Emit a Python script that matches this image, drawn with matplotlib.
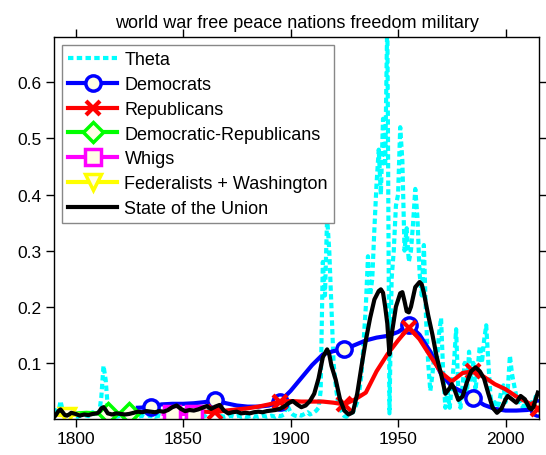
import numpy as np
import matplotlib
matplotlib.use("Agg")
import matplotlib.pyplot as plt

plt.rcParams['font.family'] = ['Liberation Sans', 'DejaVu Sans']

# theta, one value per year 1790..2015
theta_years = np.arange(1790, 2016)
theta = [
    0.010, 0.020, 0.010, 0.032, 0.015, 0.010, 0.005, 0.012, 0.020, 0.008,   # 1790s
    0.005, 0.004, 0.006, 0.005, 0.008, 0.006, 0.005, 0.010, 0.012, 0.008,   # 1800s
    0.006, 0.010, 0.040, 0.095, 0.070, 0.020, 0.008, 0.005, 0.006, 0.004,   # 1810s
    0.005, 0.006, 0.004, 0.007, 0.005, 0.006, 0.004, 0.005, 0.006, 0.004,   # 1820s
    0.005, 0.006, 0.004, 0.005, 0.007, 0.005, 0.006, 0.004, 0.005, 0.006,   # 1830s
    0.005, 0.006, 0.007, 0.005, 0.006, 0.008, 0.012, 0.015, 0.010, 0.006,   # 1840s
    0.005, 0.004, 0.006, 0.005, 0.004, 0.006, 0.005, 0.004, 0.005, 0.006,   # 1850s
    0.005, 0.010, 0.015, 0.018, 0.020, 0.012, 0.008, 0.006, 0.005, 0.004,   # 1860s
    0.005, 0.004, 0.006, 0.005, 0.004, 0.005, 0.006, 0.004, 0.005, 0.004,   # 1870s
    0.004, 0.005, 0.006, 0.004, 0.005, 0.004, 0.005, 0.006, 0.005, 0.004,   # 1880s
    0.005, 0.006, 0.005, 0.004, 0.006, 0.005, 0.006, 0.008, 0.025, 0.020,   # 1890s
    0.012, 0.008, 0.006, 0.005, 0.007, 0.006, 0.008, 0.010, 0.012, 0.008,   # 1900s
    0.010, 0.012, 0.015, 0.020, 0.050, 0.280, 0.220, 0.360, 0.300, 0.200,   # 1910s
    0.100, 0.060, 0.030, 0.020, 0.010, 0.005, 0.004, 0.008, 0.010, 0.012,   # 1920s
    0.020, 0.030, 0.050, 0.080, 0.140, 0.200, 0.290, 0.220, 0.250, 0.340,   # 1930s
    0.420, 0.480, 0.400, 0.535, 0.450, 0.720, 0.010, 0.250, 0.300, 0.380,   # 1940s
    0.400, 0.520, 0.460, 0.300, 0.340, 0.280, 0.300, 0.350, 0.410, 0.360,   # 1950s
    0.260, 0.220, 0.310, 0.180, 0.100, 0.050, 0.080, 0.120, 0.100, 0.150,   # 1960s
    0.180, 0.080, 0.020, 0.050, 0.020, 0.060, 0.100, 0.160, 0.050, 0.020,   # 1970s
    0.060, 0.100, 0.040, 0.120, 0.070, 0.100, 0.050, 0.090, 0.130, 0.100,   # 1980s
    0.140, 0.167, 0.100, 0.040, 0.020, 0.030, 0.020, 0.030, 0.050, 0.060,   # 1990s
    0.030, 0.050, 0.113, 0.080, 0.060, 0.040, 0.030, 0.030, 0.020, 0.030,   # 2000s
    0.020, 0.020, 0.030, 0.020, 0.040, 0.040,                               # 2010s
]

dem_years = [1829, 1835, 1840, 1845, 1850, 1855, 1860, 1865, 1870, 1875, 1880, 1885,
             1890, 1895, 1900, 1905, 1910, 1915, 1920, 1925, 1930, 1935, 1940, 1945,
             1950, 1955, 1960, 1965, 1970, 1975, 1980, 1985, 1990, 1995, 2000, 2005,
             2010, 2015]
dem = [0.020, 0.021, 0.026, 0.027, 0.027, 0.028, 0.030, 0.034, 0.028, 0.024, 0.022, 0.022,
       0.024, 0.031, 0.050, 0.073, 0.096, 0.115, 0.121, 0.124, 0.132, 0.140, 0.145, 0.148,
       0.155, 0.168, 0.150, 0.120, 0.080, 0.058, 0.048, 0.037, 0.025, 0.018, 0.015, 0.015,
       0.016, 0.019]

rep_years = [1860, 1865, 1870, 1875, 1880, 1885, 1890, 1895, 1900, 1905, 1910, 1915,
             1920, 1925, 1930, 1935, 1940, 1945, 1950, 1955, 1960, 1965, 1970, 1975,
             1980, 1985, 1990, 1995, 2000, 2005, 2010, 2015]
rep = [0.013, 0.012, 0.015, 0.017, 0.019, 0.022, 0.026, 0.031, 0.032, 0.031, 0.031, 0.031,
       0.029, 0.026, 0.035, 0.047, 0.085, 0.115, 0.140, 0.163, 0.142, 0.112, 0.083, 0.067,
       0.082, 0.085, 0.075, 0.062, 0.053, 0.040, 0.030, 0.018]

dr_years = [1801, 1805, 1810, 1815, 1820, 1825, 1829]
dr = [0.010, 0.011, 0.010, 0.011, 0.010, 0.011, 0.012]

whig_years = [1841, 1845, 1850, 1855, 1858]
whig = [0.009, 0.008, 0.009, 0.008, 0.009]

fed_years = [1790, 1796, 1801]
fed = [0.008, 0.006, 0.008]

sotu_years = [1790, 1791, 1792, 1793, 1794, 1795, 1796, 1797, 1798, 1799, 1800, 1802, 1804,
              1806, 1808, 1810, 1811, 1812, 1813, 1814, 1815, 1817, 1819, 1821, 1823, 1825,
              1827, 1829, 1831, 1833, 1835, 1837, 1839, 1841, 1843, 1845, 1847, 1849, 1851,
              1853, 1855, 1857, 1859, 1861, 1863, 1865, 1867, 1869, 1871, 1873, 1875, 1877,
              1879, 1881, 1883, 1885, 1887, 1889, 1891, 1893, 1895, 1897, 1899, 1901, 1903,
              1905, 1907, 1909, 1911, 1913, 1915, 1917, 1918, 1919, 1921, 1923, 1925, 1927,
              1929, 1931, 1933, 1935, 1937, 1939, 1941, 1942, 1943, 1944, 1945, 1946, 1947,
              1949, 1951, 1952, 1953, 1954, 1955, 1956, 1958, 1960, 1961, 1962, 1964, 1966,
              1968, 1970, 1972, 1974, 1975, 1976, 1978, 1980, 1982, 1984, 1986, 1988, 1990,
              1992, 1994, 1996, 1998, 2000, 2001, 2003, 2005, 2007, 2009, 2011, 2012, 2013,
              2014, 2015]
sotu = [0.003, 0.008, 0.014, 0.017, 0.012, 0.007, 0.006, 0.008, 0.011, 0.010, 0.009, 0.006, 0.008,
        0.007, 0.009, 0.010, 0.013, 0.019, 0.021, 0.016, 0.010, 0.008, 0.010, 0.009, 0.008, 0.009,
        0.011, 0.013, 0.012, 0.014, 0.013, 0.012, 0.014, 0.013, 0.016, 0.021, 0.024, 0.018, 0.014,
        0.016, 0.015, 0.017, 0.020, 0.023, 0.018, 0.022, 0.025, 0.015, 0.010, 0.012, 0.013, 0.010,
        0.011, 0.010, 0.012, 0.013, 0.012, 0.014, 0.015, 0.016, 0.018, 0.022, 0.028, 0.032, 0.026,
        0.021, 0.024, 0.032, 0.045, 0.072, 0.110, 0.124, 0.115, 0.095, 0.070, 0.035, 0.015, 0.008,
        0.012, 0.045, 0.094, 0.140, 0.180, 0.213, 0.228, 0.231, 0.225, 0.200, 0.170, 0.115, 0.150,
        0.200, 0.224, 0.226, 0.210, 0.192, 0.190, 0.200, 0.235, 0.244, 0.240, 0.225, 0.185, 0.150,
        0.110, 0.080, 0.045, 0.055, 0.062, 0.055, 0.034, 0.040, 0.065, 0.085, 0.092, 0.085, 0.072,
        0.045, 0.020, 0.011, 0.018, 0.035, 0.041, 0.035, 0.029, 0.041, 0.035, 0.020, 0.017, 0.022,
        0.035, 0.047]

face = '#fffde6'

fig = plt.figure(figsize=(5.46, 4.56), dpi=100)
ax = fig.add_axes([0.099, 0.079, 0.888, 0.838])

ax.plot(theta_years, theta, color='cyan', lw=3, ls='--', dashes=(1.3, 0.8), label='Theta', zorder=1)
ax.plot(dem_years, dem, color='blue', lw=3, marker='o', ms=11, mew=2.5, mfc=face,
        markevery=slice(1, None, 6), label='Democrats', zorder=2)
ax.plot(rep_years, rep, color='red', lw=3, marker='x', ms=10, mew=3,
        markevery=slice(1, None, 6), label='Republicans', zorder=2)
ax.plot(dr_years, dr, color='lime', lw=3, marker='D', ms=10, mew=2.5, mfc=face,
        markevery=[3, 5], label='Democratic-Republicans', zorder=2)
ax.plot(whig_years, whig, color='magenta', lw=3, marker='s', ms=11, mew=2.5, mfc=face,
        markevery=[1, 3], label='Whigs', zorder=2)
ax.plot(fed_years, fed, color='yellow', lw=3, marker='v', ms=11, mew=2.5, mfc=face,
        markevery=[1], label='Federalists + Washington', zorder=2)
ax.plot(sotu_years, sotu, color='black', lw=3, label='State of the Union', zorder=3)

ax.set_xlim(1790, 2015.5)
ax.set_ylim(0, 0.681)
ax.set_xticks([1800, 1850, 1900, 1950, 2000])
ax.set_yticks([0.1, 0.2, 0.3, 0.4, 0.5, 0.6])
ax.set_yticklabels(['0.1', '0.2', '0.3', '0.4', '0.5', '0.6'])
ax.tick_params(direction='out', length=6, width=1, labelsize=12.5,
               top=True, right=True, pad=3)
for s in ax.spines.values():
    s.set_linewidth(1)

ax.set_title('world war free peace nations freedom military', fontsize=13, pad=7)

leg = ax.legend(loc='upper left', fontsize=13, handlelength=2.7, labelspacing=0.43,
                borderaxespad=0.45, fancybox=False, framealpha=1, borderpad=0.35,
                handletextpad=0.4)
leg.get_frame().set_edgecolor('#888888')
leg.get_frame().set_linewidth(1)

fig.savefig('out.png', dpi=100)
